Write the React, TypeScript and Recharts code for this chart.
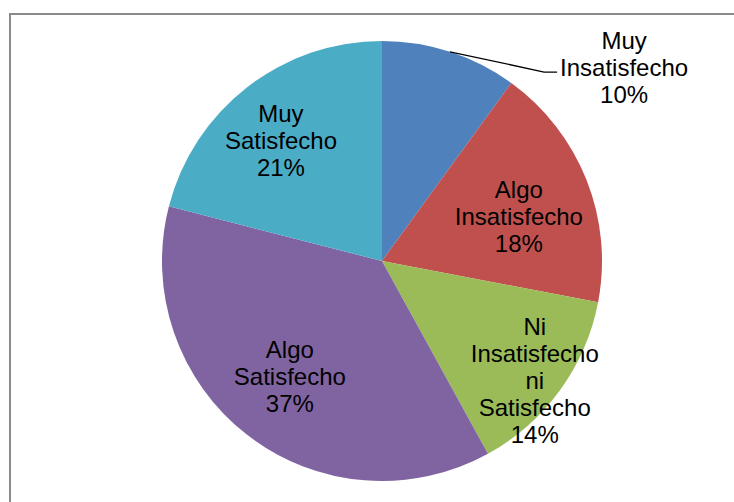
import { Pie, PieChart, Cell } from 'recharts';

const categories = [
  'Muy Insatisfecho',
  'Algo Insatisfecho',
  'Ni Insatisfecho ni Satisfecho',
  'Algo Satisfecho',
  'Muy Satisfecho',
];
const percents = [10, 18, 14, 37, 21];
const colors = ['#4F81BD', '#C0504D', '#9BBB59', '#8064A2', '#4BACC6'];

// label placement, relative to slice mid angle (deg shift, radius factor)
const LABEL_SHIFT = [-33.3, -3.4, -1.9, -0.9, 2.1];
const LABEL_R = [1.41, 0.655, 0.88, 0.67, 0.716];
const LINE_H = 27;
const RAD = Math.PI / 180;

const data = categories.map((name, i) => ({ name, value: percents[i] }));

function renderLabel(props: any) {
  const { cx, cy, midAngle, outerRadius, index } = props;
  const ang = (midAngle + LABEL_SHIFT[index]) * RAD;
  const r = outerRadius * LABEL_R[index];
  const x = cx + r * Math.cos(-ang);
  const y = cy + r * Math.sin(-ang);
  const lines = [...categories[index].split(' '), `${percents[index]}%`];
  const y0 = y - ((lines.length - 1) / 2) * LINE_H;
  let leader = null;
  if (LABEL_R[index] > 1) {
    const sx = cx + outerRadius * Math.cos(-midAngle * RAD);
    const sy = cy + outerRadius * Math.sin(-midAngle * RAD);
    leader = (
      <polyline
        points={`${sx},${sy} ${x - 80},${y + 5} ${x - 67},${y + 5}`}
        fill="none"
        stroke="#000"
        strokeWidth={1.3}
      />
    );
  }
  return (
    <g key={`lbl-${index}`}>
      {leader}
      <text x={x} y={y0} textAnchor="middle" dominantBaseline="central" fill="#000" fontSize={24} fontFamily="'Liberation Sans', Arial, sans-serif">
        {lines.map((t, k) => (
          <tspan key={k} x={x} y={y0 + k * LINE_H}>{t}</tspan>
        ))}
      </text>
    </g>
  );
}

export default function App() {
  return (
    <div style={{ position: 'absolute', left: 0, top: 0, width: 734, height: 502, background: '#fff' }}>
      <div
        style={{
          position: 'absolute',
          left: 9,
          top: 13,
          width: 725,
          height: 489,
          borderTop: '2px solid #8a8a8a',
          borderLeft: '2px solid #8a8a8a',
          boxSizing: 'border-box',
        }}
      />
      <PieChart width={734} height={502} margin={{ top: 0, right: 0, bottom: 0, left: 0 }} style={{ position: 'absolute', left: 0, top: 0 }}>
        <Pie
          data={data}
          dataKey="value"
          nameKey="name"
          cx={382}
          cy={261}
          outerRadius={220}
          startAngle={90}
          endAngle={-270}
          stroke="none"
          label={renderLabel}
          labelLine={false}
          isAnimationActive={false}
        >
          {data.map((d, i) => (
            <Cell key={d.name} fill={colors[i]} />
          ))}
        </Pie>
      </PieChart>
    </div>
  );
}
